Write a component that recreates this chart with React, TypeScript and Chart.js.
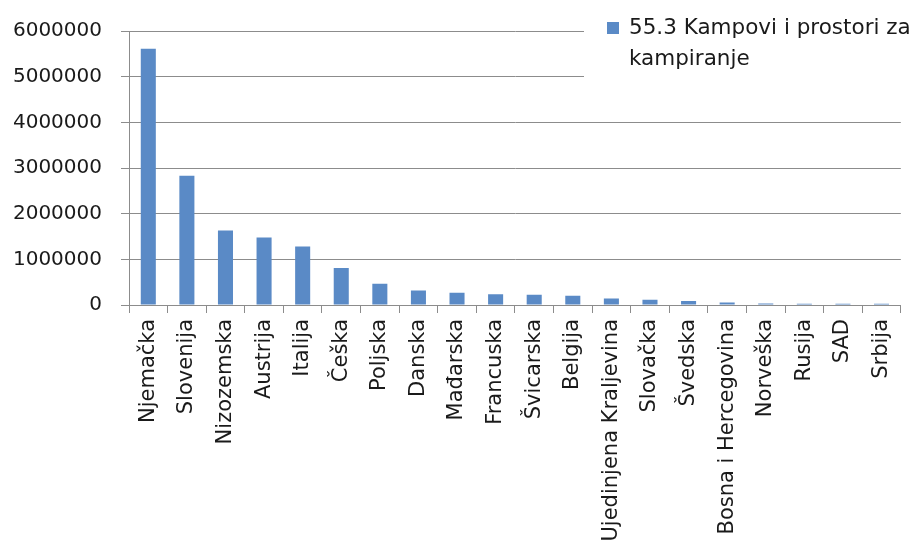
import React, { useEffect, useRef } from 'react';
import { Chart, registerables } from 'chart.js';

Chart.register(...registerables);

const categories: string[] = [
  'Njemačka', 'Slovenija', 'Nizozemska', 'Austrija', 'Italija', 'Češka', 'Poljska',
  'Danska', 'Mađarska', 'Francuska', 'Švicarska', 'Belgija', 'Ujedinjena Kraljevina',
  'Slovačka', 'Švedska', 'Bosna i Hercegovina', 'Norveška', 'Rusija', 'SAD', 'Srbija',
];

const values: number[] = [
  5610000, 2830000, 1630000, 1480000, 1280000, 810000, 465000,
  320000, 270000, 235000, 225000, 205000, 145000,
  115000, 85000, 55000, 35000, 30000, 25000, 25000,
];

const yTickValues: number[] = [0, 1000000, 2000000, 3000000, 4000000, 5000000, 6000000];

const seriesLabelLines: string[] = ['55.3 Kampovi i prostori za', 'kampiranje'];

const BAR_COLOR = '#5A8AC6';
const GRID_COLOR = '#8c8c8c';
const TEXT_COLOR = '#1a1a1a';
const FONT_FAMILY = '"DejaVu Sans", sans-serif';

const legendPlugin = {
  id: 'customLegend',
  afterDraw(chart: any) {
    const ctx = chart.ctx as CanvasRenderingContext2D;
    ctx.save();
    ctx.fillStyle = '#ffffff';
    ctx.fillRect(584, 0, 329, 97);
    ctx.fillStyle = BAR_COLOR;
    ctx.fillRect(607, 22, 12, 12);
    ctx.fillStyle = TEXT_COLOR;
    ctx.font = `21.5px ${FONT_FAMILY}`;
    ctx.textBaseline = 'alphabetic';
    ctx.textAlign = 'left';
    seriesLabelLines.forEach((line, i) => {
      ctx.fillText(line, 629, 34 + i * 31);
    });
    ctx.restore();
  },
};

export default function App() {
  const canvasRef = useRef<HTMLCanvasElement | null>(null);

  useEffect(() => {
    if (!canvasRef.current) return;
    const chart = new Chart(canvasRef.current, {
      type: 'bar',
      data: {
        labels: categories,
        datasets: [
          {
            label: seriesLabelLines.join(' '),
            data: values,
            backgroundColor: BAR_COLOR,
            borderWidth: 0,
            barPercentage: 0.39,
            categoryPercentage: 1,
          },
        ],
      },
      options: {
        responsive: false,
        animation: false,
        maintainAspectRatio: false,
        layout: { padding: { left: 0, top: 26, right: 11, bottom: 0 } },
        plugins: {
          legend: { display: false },
          tooltip: { enabled: false },
          title: { display: false },
        },
        scales: {
          x: {
            grid: {
              offset: true,
              drawOnChartArea: false,
              drawTicks: true,
              tickLength: 8,
              color: GRID_COLOR,
              lineWidth: 1,
            },
            border: { display: true, color: GRID_COLOR, width: 1 },
            ticks: {
              minRotation: 90,
              maxRotation: 90,
              autoSkip: false,
              padding: 6,
              color: TEXT_COLOR,
              font: { family: FONT_FAMILY, size: 21 },
            },
            afterFit(scale: any) {
              scale.height = 242;
            },
          },
          y: {
            min: 0,
            max: 6000000,
            afterBuildTicks(scale: any) {
              scale.ticks = yTickValues.map((v) => ({ value: v }));
            },
            grid: {
              drawOnChartArea: true,
              drawTicks: true,
              tickLength: 8,
              color: GRID_COLOR,
              lineWidth: 1,
            },
            border: { display: true, color: GRID_COLOR, width: 1 },
            ticks: {
              padding: 19,
              color: TEXT_COLOR,
              font: { family: FONT_FAMILY, size: 20 },
              callback: (v: any) => String(v),
            },
            afterFit(scale: any) {
              scale.width = 129;
            },
          },
        },
      },
      plugins: [legendPlugin],
    });
    return () => chart.destroy();
  }, []);

  return (
    <div style={{ position: 'fixed', left: 0, top: 0, width: 913, height: 547, background: '#fff' }}>
      <canvas ref={canvasRef} width={913} height={547} style={{ display: 'block' }} />
    </div>
  );
}
